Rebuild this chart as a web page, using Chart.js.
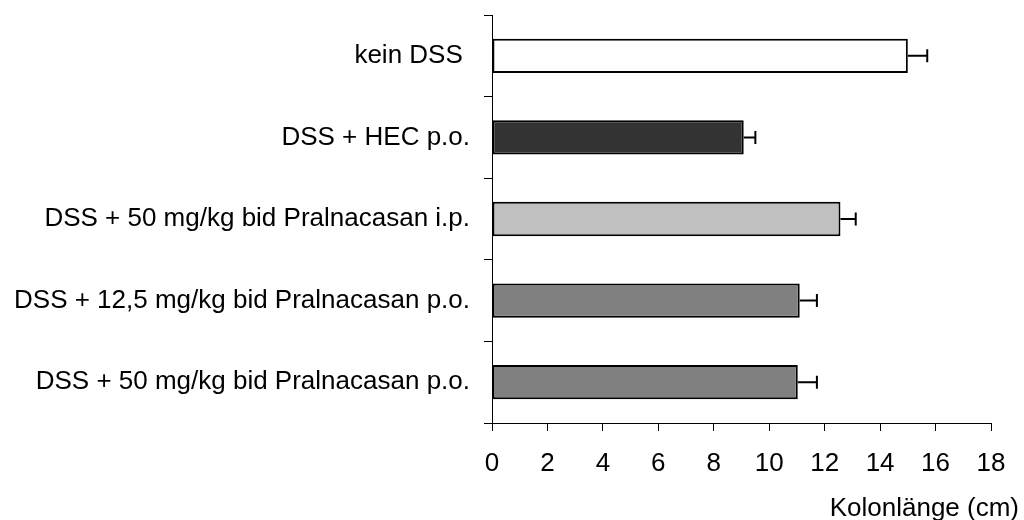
<!DOCTYPE html>
<html>
<head>
<meta charset="utf-8">
<script src="https://cdn.jsdelivr.net/npm/chart.js@4"></script>
<style>
  html, body { margin: 0; padding: 0; background: #fff; }
  #wrap { width: 1024px; height: 520px; }
</style>
</head>
<body>
<div id="wrap"><canvas id="kolonChart"></canvas></div>
<script>
// Daten
var gruppen = ['kein DSS ', 'DSS + HEC p.o.', 'DSS + 50 mg/kg bid Pralnacasan i.p.', 'DSS + 12,5 mg/kg bid Pralnacasan p.o.', 'DSS + 50 mg/kg bid Pralnacasan p.o.'];
var kolonLaenge = [15.0, 9.08, 12.57, 11.1, 11.03];
var fehler = [0.7, 0.42, 0.55, 0.62, 0.69];
var farben = ['#ffffff', '#333333', '#c0c0c0', '#808080', '#808080'];
var xTicks = [0, 2, 4, 6, 8, 10, 12, 14, 16, 18];

var schrift = { family: "'Liberation Sans', Arial, sans-serif", size: 26, lineHeight: 1.15 };

// Fehlerbalken
var fehlerPlugin = {
    id: 'fehlerbalken',
    afterDatasetsDraw: function (chart) {
        var ctx = chart.ctx;
        var x = chart.scales.x;
        var meta = chart.getDatasetMeta(0);
        ctx.save();
        ctx.strokeStyle = '#000';
        ctx.lineWidth = 2;
        meta.data.forEach(function (bar, i) {
            var x0 = x.getPixelForValue(kolonLaenge[i]);
            var x1 = x.getPixelForValue(kolonLaenge[i] + fehler[i]);
            ctx.beginPath();
            ctx.moveTo(x0, bar.y);
            ctx.lineTo(x1, bar.y);
            ctx.moveTo(x1, bar.y - 6.5);
            ctx.lineTo(x1, bar.y + 6.5);
            ctx.stroke();
        });
        ctx.restore();
    }
};

// Achsentitel rechts unten
var titelPlugin = {
    id: 'achsentitel',
    afterDraw: function (chart) {
        var ctx = chart.ctx;
        ctx.save();
        ctx.font = schrift.size + 'px ' + schrift.family;
        ctx.fillStyle = '#000';
        ctx.textAlign = 'right';
        ctx.textBaseline = 'alphabetic';
        ctx.fillText('Kolonlänge (cm)', chart.width - 5, 516);
        ctx.restore();
    }
};

var ctx = document.getElementById('kolonChart').getContext('2d');
var kolonChart = new Chart(ctx, {
    type: 'bar',
    data: {
        labels: gruppen,
        datasets: [{
            data: kolonLaenge,
            backgroundColor: farben,
            borderColor: '#000',
            borderWidth: 2,
            borderSkipped: false,
            barPercentage: 0.42,
            categoryPercentage: 1
        }]
    },
    options: {
        indexAxis: 'y',
        responsive: true,
        maintainAspectRatio: false,
        animation: false,
        layout: { padding: { top: 15, right: 33, left: 0, bottom: 0 } },
        plugins: {
            legend: { display: false },
            tooltip: { enabled: false }
        },
        scales: {
            x: {
                min: 0,
                max: 18,
                afterBuildTicks: function (scale) {
                    scale.ticks = xTicks.map(function (v) { return { value: v }; });
                },
                afterFit: function (scale) { scale.height = 97; },
                grid: { drawOnChartArea: false, drawTicks: true, tickLength: 8, color: '#000' },
                border: { color: '#000', width: 1 },
                ticks: { color: '#000', font: schrift, padding: 18, maxRotation: 0 }
            },
            y: {
                afterFit: function (scale) {
                    scale.width = 492;
                    scale.paddingTop = 0;
                    scale.paddingBottom = 0;
                },
                grid: { drawOnChartArea: false, drawTicks: true, tickLength: 8, color: '#000', offset: true },
                border: { color: '#000', width: 1 },
                ticks: { color: '#000', font: schrift, padding: 14 }
            }
        }
    },
    plugins: [fehlerPlugin, titelPlugin]
});
</script>
</body>
</html>
